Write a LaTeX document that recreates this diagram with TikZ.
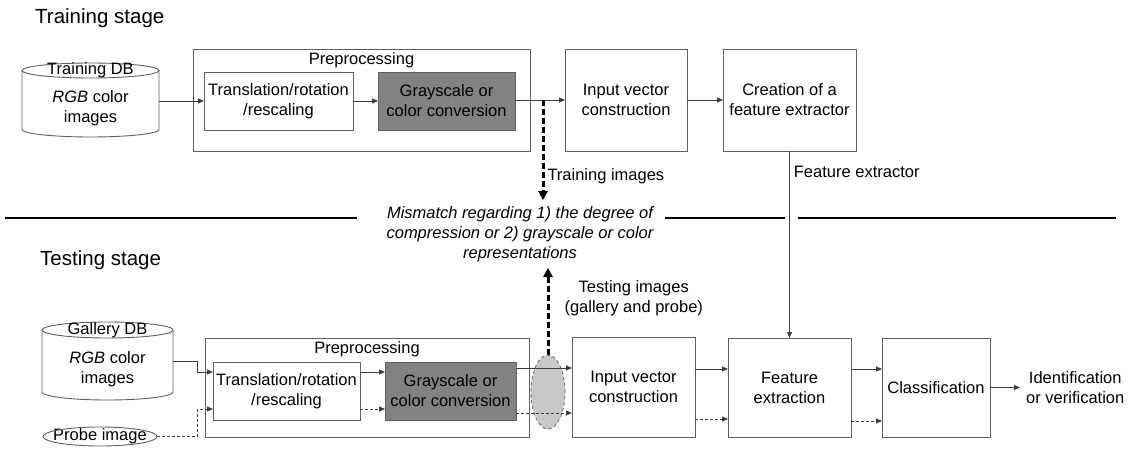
\documentclass[tikz,border=0pt]{standalone}
\usepackage{fontspec}
\setmainfont{Liberation Sans}
\usepackage{tikz}
\usetikzlibrary{arrows.meta,positioning,shapes.geometric}
\definecolor{edgegray}{RGB}{95,95,95}
\definecolor{linegray}{RGB}{60,60,60}
\definecolor{convfill}{RGB}{130,130,130}
\definecolor{ovalfill}{RGB}{200,200,200}
\newcommand{\boxfont}{\fontsize{16.5}{20}\selectfont}
\newcommand{\stagefont}{\fontsize{20.5}{24}\selectfont}

\begin{document}
\begin{tikzpicture}[x=1pt, y=-1pt,
  box/.style={draw=edgegray, line width=0.9pt, fill=white, align=center,
              inner sep=2pt, outer sep=0pt, font=\boxfont},
  convbox/.style={box, fill=convfill},
  dbshape/.style={outer sep=0pt, inner sep=0pt},
  dbline/.style={draw=edgegray, line width=0.9pt},
  txt/.style={font=\boxfont, align=center, inner sep=0pt},
  lbl/.style={font=\boxfont, text=black, align=center, inner sep=0pt},
  stagetitle/.style={font=\stagefont, anchor=west, inner sep=0pt},
  arr/.style={-{Triangle[length=6pt,width=5pt]}, linegray, line width=0.8pt},
  darr/.style={arr, dash pattern=on 3pt off 2pt},
  bigdash/.style={-{Triangle[length=9pt,width=9pt]}, black, line width=3pt,
                  dash pattern=on 6pt off 3pt},
  sepline/.style={black, line width=2.8pt},
]
\useasboundingbox (0,0) rectangle (1129,449);

% training stage
\node[stagetitle] (trtitle) at (35,18) {Training stage};

\node[dbshape, minimum width=137pt, minimum height=74pt] (trdb) at (90.5,100) {};
\draw[dbline] ([yshift=-7.5pt]trdb.north west) -- ([yshift=7.5pt]trdb.south west)
  arc[start angle=180, end angle=360, x radius=68.5pt, y radius=7.5pt]
  -- ([yshift=-7.5pt]trdb.north east);
\draw[dbline] ([yshift=-7.5pt]trdb.north) ellipse[x radius=68.5pt, y radius=7.5pt];
\node[txt] (trdbname) at ([yshift=-7.5pt]trdb.north) {Training DB};
\node[txt] (trdbtext) at ([yshift=-8pt]trdb.center) {\textit{RGB} color\\images};

\node[box, minimum width=337pt, minimum height=102pt] (prep1) at (361.5,100) {};
\node[lbl, inner sep=3pt, below=0pt of prep1.north] (prep1name) {Preprocessing};
\node[box, minimum width=149pt, minimum height=58pt] (trans1) at (278.5,101)
  {Translation/rotation\\/rescaling};
\node[convbox, minimum width=137pt, minimum height=58pt] (gray1) at (446.5,101)
  {Grayscale or\\color conversion};
\node[box, minimum width=122pt, minimum height=102pt] (ivc1) at (626,100)
  {Input vector\\construction};
\node[box, minimum width=133pt, minimum height=102pt] (cfe) at (789.5,100)
  {Creation of a\\feature extractor};

\draw[arr] (trdb.east |- trans1) -- (trans1);
\draw[arr] (trans1) -- (gray1);
\draw[arr] (gray1.east |- ivc1) -- (ivc1);
\draw[arr] (ivc1) -- (cfe);
\coordinate (trsplit) at (543,100);

% mismatch and separators
\node[font=\boxfont\itshape, align=center, inner sep=6pt] (mism) at (520,234)
  {Mismatch regarding 1) the degree of\\compression or 2) grayscale or color\\representations};
\draw[bigdash] (trsplit) -- (trsplit |- mism.north)
  node[pos=0.76, right=3pt, lbl] {Training images};
\draw[sepline] (5,218) -- (357,218);
\draw[sepline] (665,218) -- (785,218);
\draw[sepline] (798,218) -- (1116,218);

% testing stage
\node[stagetitle] (tetitle) at (40,260) {Testing stage};

\node[dbshape, minimum width=131pt, minimum height=78pt] (gdb) at (107.5,361) {};
\draw[dbline] ([yshift=-8pt]gdb.north west) -- ([yshift=8pt]gdb.south west)
  arc[start angle=180, end angle=360, x radius=65.5pt, y radius=8pt]
  -- ([yshift=-8pt]gdb.north east);
\draw[dbline] ([yshift=-8pt]gdb.north) ellipse[x radius=65.5pt, y radius=8pt];
\node[txt] (gdbname) at ([yshift=-8pt]gdb.north) {Gallery DB};
\node[txt] (gdbtext) at ([yshift=-8pt]gdb.center) {\textit{RGB} color\\images};

\node[txt, minimum width=114pt, minimum height=19pt] (probe) at (100,436.5) {Probe image};
\draw[dbline] (probe.center) ellipse[x radius=57pt, y radius=9.5pt];

\node[box, minimum width=324pt, minimum height=99pt] (prep2) at (367,387.5) {};
\node[lbl, inner sep=3pt, below=0pt of prep2.north] (prep2name) {Preprocessing};
\node[box, minimum width=147pt, minimum height=58pt] (trans2) at (286.5,391)
  {Translation/rotation\\/rescaling};
\node[convbox, minimum width=131pt, minimum height=58pt] (gray2) at (450.5,391)
  {Grayscale or\\color conversion};
\node[ellipse, draw=edgegray, dashed, line width=0.8pt, fill=ovalfill,
      minimum width=34pt, minimum height=74pt, inner sep=0pt] (oval) at (548,392) {};
\node[box, minimum width=123pt, minimum height=100pt] (ivc2) at (633.5,387)
  {Input vector\\construction};
\node[box, minimum width=123pt, minimum height=99pt] (fex) at (789.5,387.5)
  {Feature\\extraction};
\node[box, minimum width=108pt, minimum height=99pt] (cls) at (936,387.5)
  {Classification};
\node[lbl, inner sep=6pt, right=30pt of cls] (idv) {Identification\\or verification};

\draw[arr] (gdb.east) -- ++(24,0) |- ([yshift=19pt]trans2.west);
\draw[darr] (probe.east) -- ++(40,0) |- ([yshift=-18pt]trans2.west);
\draw[arr] ([yshift=19pt]trans2.east) -- ([yshift=19pt]gray2.west);
\draw[darr] ([yshift=-18pt]trans2.east) -- ([yshift=-18pt]gray2.west);
\draw[arr] ([yshift=23pt]gray2.east) -- ([yshift=23pt]gray2.east -| ivc2.west);
\draw[darr] ([yshift=-22pt]gray2.east) -- ([yshift=-22pt]gray2.east -| ivc2.west);
\draw[arr] ([yshift=18pt]ivc2.east) -- ([yshift=18pt]ivc2.east -| fex.west);
\draw[darr] ([yshift=-32pt]ivc2.east) -- ([yshift=-32pt]ivc2.east -| fex.west);
\draw[arr] ([yshift=18.5pt]fex.east) -- ([yshift=18.5pt]cls.west);
\draw[darr] ([yshift=-33.5pt]fex.east) -- ([yshift=-33.5pt]cls.west);
\draw[arr] (cls) -- (idv);

\draw[arr] (cfe) -- (fex) node[pos=0.11, right=4pt, lbl] {Feature extractor};
\draw[bigdash] (oval.north) -- (oval.north |- mism.south)
  node[pos=0.65, right=15pt, lbl] {Testing images\\(gallery and probe)};
\end{tikzpicture}
\end{document}
